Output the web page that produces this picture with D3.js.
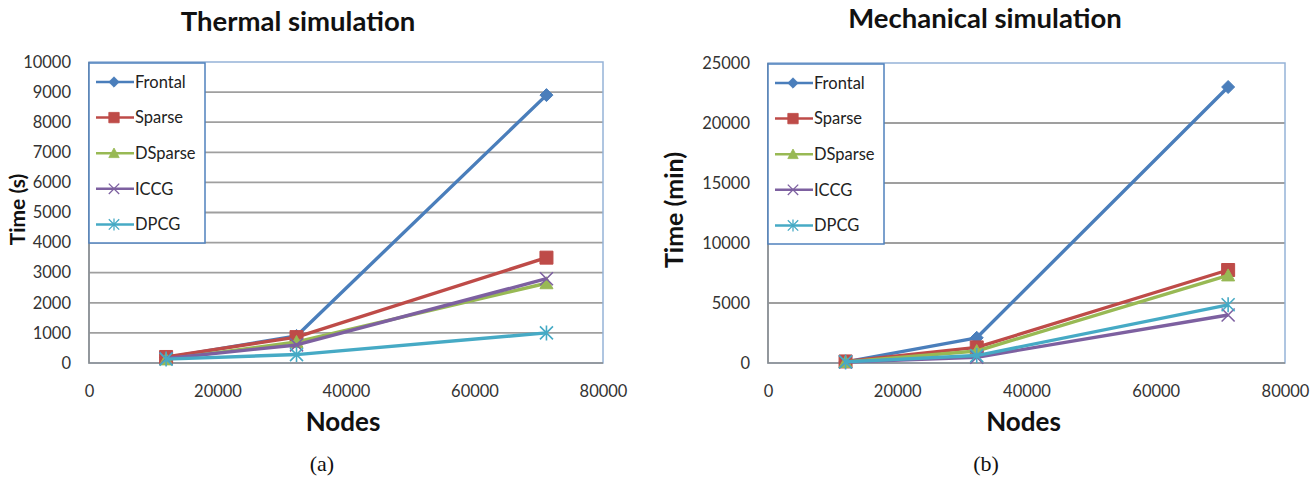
<!DOCTYPE html>
<html>
<head>
<meta charset="utf-8">
<script src="https://cdn.jsdelivr.net/npm/d3@7"></script>
<style>
  body { margin: 0; background: #fff; }
  svg { display: block; font-family: Lato, "Open Sans", sans-serif; }
</style>
</head>
<body>
<svg id="chart" width="1311" height="483"></svg>
<script>
"use strict";
// node counts of the three meshes
const nodes = [12000, 32300, 71200];
const seriesNames = ["Frontal", "Sparse", "DSparse", "ICCG", "DPCG"];
const seriesColors = ["#4a7ebb", "#be4b48", "#98b954", "#7d60a0", "#46aac5"];
const seriesMarkers = ["diamond", "square", "triangle", "cross", "star"];
// thermal simulation, time (s)
const thermalFrontal = [180, 900, 8900];
const thermalSparse = [200, 860, 3500];
const thermalDSparse = [120, 700, 2650];
const thermalICCG = [150, 600, 2800];
const thermalDPCG = [130, 280, 1000];
// mechanical simulation, time (min)
const mechFrontal = [100, 2100, 23000];
const mechSparse = [130, 1300, 7750];
const mechDSparse = [90, 1000, 7300];
const mechICCG = [80, 480, 4000];
const mechDPCG = [90, 620, 4850];
const xTicks = [0, 20000, 40000, 60000, 80000];
const thermalTicks = d3.range(0, 10001, 1000);
const mechTicks = d3.range(0, 25001, 5000);

const svg = d3.select("#chart");

function markerPath(kind) {
    switch (kind) {
        case "diamond": return "M0,-6.5L6.5,0L0,6.5L-6.5,0Z";
        case "square": return "M-6.5,-6.5H6.5V6.5H-6.5Z";
        case "triangle": return "M0,-6.5L6.5,5.5H-6.5Z";
        case "cross": return "M-6.5,-6.5L6.5,6.5M6.5,-6.5L-6.5,6.5";
        case "star": return "M-6.5,-6.5L6.5,6.5M6.5,-6.5L-6.5,6.5M0,-7.5V7.5";
    }
}

function drawMarker(g, kind, color) {
    const filled = kind != "cross" && kind != "star";
    g.append("path")
        .attr("d", markerPath(kind))
        .attr("fill", filled ? color : "none")
        .attr("stroke", color)
        .attr("stroke-width", filled ? 1 : 1.6);
}

function drawPanel(opt) {
    const x = d3.scaleLinear().domain([0, 80000]).range([opt.left, opt.right]);
    const y = d3.scaleLinear().domain([0, opt.yMax]).range([opt.bottom, opt.top]);
    const g = svg.append("g");

    // grid lines
    g.append("g").selectAll("line")
        .data(opt.yTicks.slice(1, -1))
        .join("line")
        .attr("x1", opt.left).attr("x2", opt.right)
        .attr("y1", (d) => y(d)).attr("y2", (d) => y(d))
        .attr("stroke", "#9f9f9f").attr("stroke-width", 1.8);

    // plot frame: blue on top/right, grey axes
    g.append("rect")
        .attr("x", opt.left).attr("y", opt.top)
        .attr("width", opt.right - opt.left).attr("height", opt.bottom - opt.top)
        .attr("fill", "none").attr("stroke", "#95b3d7").attr("stroke-width", 1.5);
    g.append("path")
        .attr("d", `M${opt.left},${opt.top}V${opt.bottom}H${opt.right}`)
        .attr("fill", "none").attr("stroke", "#8c8c8c").attr("stroke-width", 1.6);

    const yAxis = g.append("g")
        .attr("transform", `translate(${opt.left},0)`)
        .call(d3.axisLeft(y).tickValues(opt.yTicks).tickSize(0).tickPadding(18).tickFormat(d3.format("d")));
    const xAxis = g.append("g")
        .attr("transform", `translate(0,${opt.bottom})`)
        .call(d3.axisBottom(x).tickValues(xTicks).tickSize(0).tickPadding(22).tickFormat(d3.format("d")));
    [yAxis, xAxis].forEach((a) => {
        a.select(".domain").remove();
        a.selectAll("text").attr("font-size", 16.5).attr("fill", "#333")
            .attr("font-family", "Lato, 'Open Sans', sans-serif");
    });

    // series lines and markers
    const line = d3.line().x((d, i) => x(nodes[i])).y((d) => y(d));
    opt.series.forEach((vals, si) => {
        const color = seriesColors[si];
        g.append("path")
            .attr("d", line(vals))
            .attr("fill", "none").attr("stroke", color)
            .attr("stroke-width", 3.4).attr("stroke-linejoin", "round");
        vals.forEach((v, i) => {
            const m = g.append("g").attr("transform", `translate(${x(nodes[i])},${y(v)})`);
            drawMarker(m, seriesMarkers[si], color);
        });
    });

    // legend
    const lg = g.append("g");
    lg.append("rect")
        .attr("x", opt.left).attr("y", opt.top + 1)
        .attr("width", 116).attr("height", 180)
        .attr("fill", "#fff").attr("stroke", "#4f81bd").attr("stroke-width", 1.5);
    seriesNames.forEach((name, i) => {
        const ly = opt.top + 20 + i * 35.6;
        const row = lg.append("g").attr("transform", `translate(${opt.left},${ly})`);
        row.append("line").attr("x1", 7).attr("x2", 45).attr("y1", 0).attr("y2", 0)
            .attr("stroke", seriesColors[i]).attr("stroke-width", 2.5);
        const m = row.append("g").attr("transform", "translate(25,0) scale(0.8)");
        drawMarker(m, seriesMarkers[i], seriesColors[i]);
        row.append("text").attr("x", 46).attr("y", 0).attr("dy", "0.35em")
            .attr("font-size", 16.5).attr("fill", "#222").text(name);
    });

    // titles
    g.append("text").attr("x", opt.titleX).attr("y", opt.titleY)
        .attr("text-anchor", "middle").attr("font-size", 27.5).attr("font-weight", "bold")
        .attr("fill", "#111").text(opt.title);
    g.append("text").attr("x", (opt.left + opt.right) / 2 - 3).attr("y", 431)
        .attr("text-anchor", "middle").attr("font-size", 26).attr("font-weight", "bold")
        .attr("fill", "#111").text("Nodes");
    g.append("text")
        .attr("transform", `translate(${opt.yLabelX},${(opt.top + opt.bottom) / 2 - 3}) rotate(-90)`)
        .attr("text-anchor", "middle").attr("font-size", opt.yLabelSize).attr("font-weight", "bold")
        .attr("fill", "#111").text(opt.yLabel);
    g.append("text").attr("x", opt.captionX).attr("y", 471)
        .attr("text-anchor", "middle").attr("font-size", 22)
        .attr("font-family", "'Liberation Serif', 'DejaVu Serif', serif")
        .attr("fill", "#111").text(opt.caption);
}

drawPanel({
    left: 89, right: 603, top: 62, bottom: 363, yMax: 10000, yTicks: thermalTicks,
    series: [thermalFrontal, thermalSparse, thermalDSparse, thermalICCG, thermalDPCG],
    title: "Thermal simulation", titleX: 298, titleY: 31,
    yLabel: "Time (s)", yLabelX: 25, yLabelSize: 21, caption: "(a)", captionX: 322
});
drawPanel({
    left: 768, right: 1285, top: 63, bottom: 363, yMax: 25000, yTicks: mechTicks,
    series: [mechFrontal, mechSparse, mechDSparse, mechICCG, mechDPCG],
    title: "Mechanical simulation", titleX: 985, titleY: 28,
    yLabel: "Time (min)", yLabelX: 683, yLabelSize: 25, caption: "(b)", captionX: 986
});
</script>
</body>
</html>
